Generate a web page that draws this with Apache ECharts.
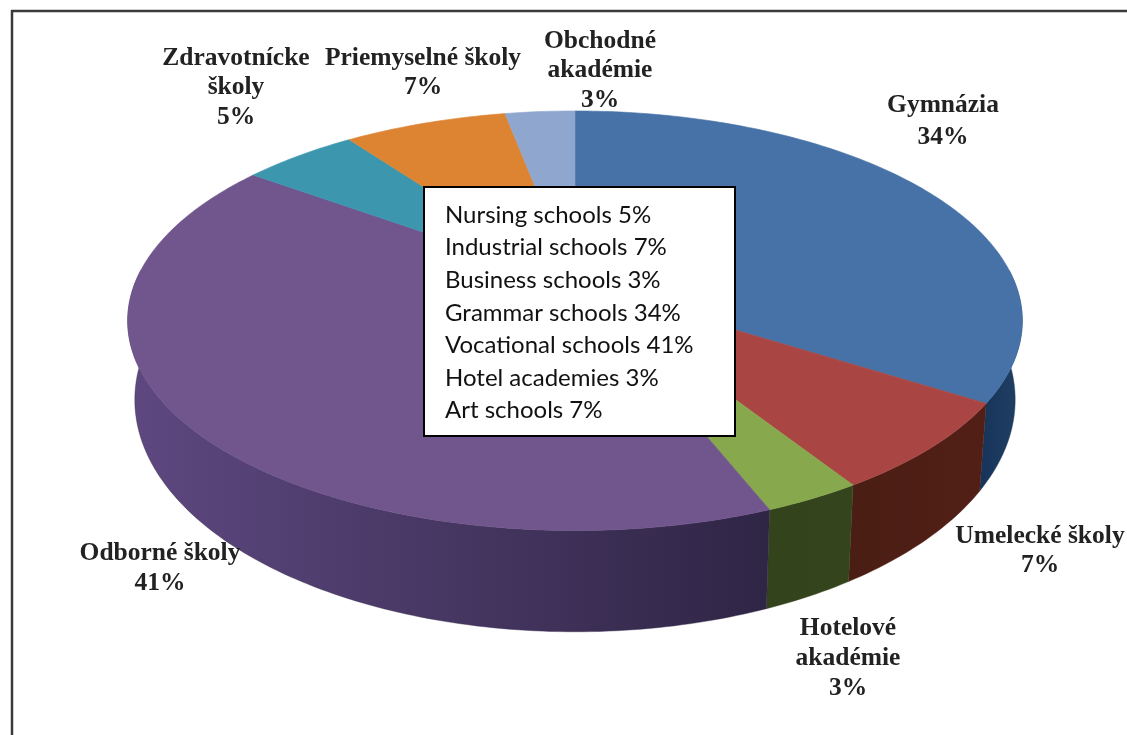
<!DOCTYPE html>
<html>
<head>
<meta charset="utf-8">
<style>html,body{margin:0;padding:0;background:#fff}#chart{width:1127px;height:735px}</style>
<script src="https://cdn.jsdelivr.net/npm/echarts@6/dist/echarts.min.js"></script>
</head>
<body>
<div id="chart"></div>
<script>
// School types, clockwise from twelve o'clock
const categories = ['Gymnázia', 'Umelecké školy', 'Hotelové\nakadémie', 'Odborné školy', 'Zdravotnícke\nškoly', 'Priemyselné školy', 'Obchodné\nakadémie'];
const shares = [34, 7, 3, 41, 5, 7, 3];

// Translations listed in the white box
const boxNames = ['Nursing schools', 'Industrial schools', 'Business schools', 'Grammar schools', 'Vocational schools', 'Hotel academies', 'Art schools'];
const boxShares = [5, 7, 3, 34, 41, 3, 7];

const topColors = ['#4672a7', '#a94542', '#87a84c', '#71558d', '#3b96ae', '#dd8433', '#8fa6cf'];
const sideStops = [
  ['#16345a', '#223f63'],
  ['#4a1e14', '#521f16'],
  ['#33431c', '#34441c'],
  ['#5e4880', '#2f2545'],
  ['#2a6a7c', '#2a6a7c'],
  ['#9c5d24', '#9c5d24'],
  ['#66769a', '#66769a']
];

// Label anchor (centre x, first-line centre y, line spacing)
const labelPlaces = [
  [943, 105, 32], [1040, 536, 29], [848, 628, 30], [160, 553, 30],
  [236, 58, 29.5], [423, 58, 29.5], [600, 41, 29.5]
];

// Perspective view of the disc: upper face and the lower rim of the wall
const view = {
  cx: 575, k: 0.18,
  upper: { cy: 283, a: 440, b: 203 },
  lower: { cy: 358, a: 433, b: 224.5 }
};

function project(pct, lower) {
  const t = pct / 100 * 2 * Math.PI;
  const X = Math.sin(t), Y = -Math.cos(t), w = 1 - view.k * Y;
  const ring = lower ? view.lower : view.upper;
  return [view.cx + ring.a * X / w, ring.cy + ring.b * Y / w];
}

function arc(from, to, lower) {
  const pts = [];
  const steps = Math.max(2, Math.ceil((to - from) * 4));
  for (let i = 0; i <= steps; i++) pts.push(project(from + (to - from) * i / steps, lower));
  return pts;
}

// Cumulative start and end of each slice
let running = 0;
const sliceRows = shares.map((v, i) => {
  const row = [running, running + v, i];
  running += v;
  return row;
});

function renderTop(params, api) {
  const from = api.value(0), to = api.value(1), i = api.value(2);
  return {
    type: 'polygon',
    shape: { points: [[view.cx, view.upper.cy]].concat(arc(from, to, false)) },
    style: { fill: topColors[i], stroke: topColors[i], lineWidth: 0.6 }
  };
}

function renderSide(params, api) {
  // Only the near half of the rim can be seen
  const from = Math.max(api.value(0), 24), to = Math.min(api.value(1), 76), i = api.value(2);
  if (to <= from) return null;
  const upper = arc(from, to, false), lower = arc(from, to, true).reverse();
  const xs = upper.concat(lower).map(p => p[0]);
  const x0 = Math.min.apply(null, xs), x1 = Math.max.apply(null, xs);
  return {
    type: 'polygon',
    shape: { points: upper.concat(lower) },
    style: {
      fill: new echarts.graphic.LinearGradient(x0, 0, x1, 0, [
        { offset: 0, color: sideStops[i][0] },
        { offset: 1, color: sideStops[i][1] }
      ], true),
      stroke: sideStops[i][1], lineWidth: 0.4
    }
  };
}

const serif = '"Liberation Serif", serif';
const labelTexts = [];
categories.forEach((name, i) => {
  const lines = name.split('\n').concat(shares[i] + '%');
  const place = labelPlaces[i];
  lines.forEach((line, j) => {
    labelTexts.push({
      type: 'text', z: 20,
      style: {
        x: place[0], y: place[1] + j * place[2], text: line,
        fill: '#222', align: 'center', verticalAlign: 'middle',
        font: 'bold 25.5px ' + serif
      }
    });
  });
});

const boxBits = [{
  type: 'rect', z: 30,
  shape: { x: 424, y: 187, width: 311, height: 249 },
  style: { fill: '#fff', stroke: '#000', lineWidth: 2 }
}];
boxNames.forEach((name, i) => {
  boxBits.push({
    type: 'text', z: 31,
    style: {
      x: 445, y: 215 + i * 32.6, text: name + ' ' + boxShares[i] + '%',
      fill: '#111', align: 'left', verticalAlign: 'middle',
      font: '24px Lato, "Open Sans", sans-serif'
    }
  });
});

const frame = [
  { type: 'line', z: 40, shape: { x1: 11, y1: 11, x2: 1127, y2: 11 }, style: { stroke: '#3a3a3a', lineWidth: 2.5 } },
  { type: 'line', z: 40, shape: { x1: 12, y1: 10, x2: 12, y2: 735 }, style: { stroke: '#3a3a3a', lineWidth: 2.5 } }
];

const chart = echarts.init(document.getElementById('chart'), null, { renderer: 'canvas' });
chart.setOption({
  animation: false,
  backgroundColor: '#fff',
  series: [
    { type: 'custom', coordinateSystem: 'none', z: 1, silent: true, renderItem: renderSide, data: sliceRows },
    { type: 'custom', coordinateSystem: 'none', z: 2, silent: true, renderItem: renderTop, data: sliceRows }
  ],
  graphic: { elements: frame.concat(labelTexts, boxBits) }
});
</script>
</body>
</html>
